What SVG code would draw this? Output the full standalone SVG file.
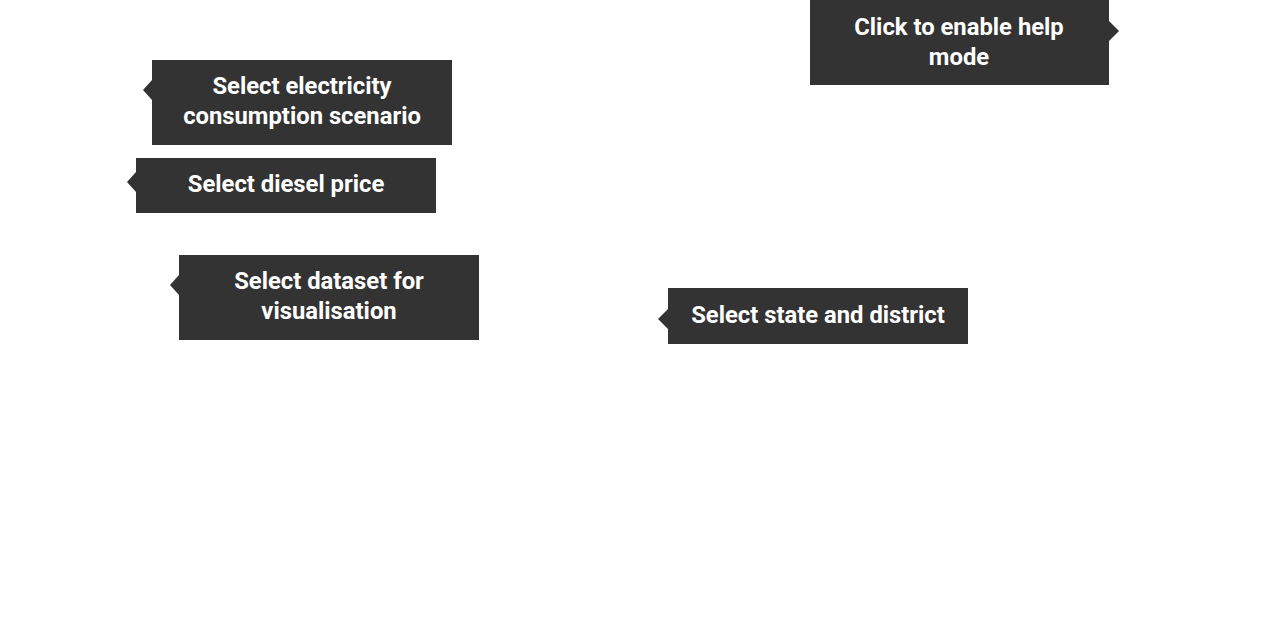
<svg xmlns="http://www.w3.org/2000/svg" width="1280" height="618" viewBox="0 0 1280 618">
<style>
.box{fill:#333333}
.t{font-family:Roboto,"Liberation Sans",sans-serif;font-weight:bold;font-size:23.8px;fill:#ffffff;text-anchor:middle}
</style>
<rect width="1280" height="618" fill="#ffffff"/>
<g id="connectors"></g>
<g id="help">
<rect class="box" x="810" y="0" width="299" height="85"/>
<polygon class="box" points="1109,21 1119,31 1109,41"/>
<text class="t" x="959" y="35">Click to enable help</text>
<text class="t" x="959" y="65">mode</text>
</g>
<g id="electricity">
<rect class="box" x="152" y="60" width="300" height="85"/>
<polygon class="box" points="152,80 143,90 152,100"/>
<text class="t" x="302" y="94">Select electricity</text>
<text class="t" x="302" y="124">consumption scenario</text>
</g>
<g id="diesel">
<rect class="box" x="136" y="158" width="300" height="55"/>
<polygon class="box" points="136,172 127,182 136,192"/>
<text class="t" x="286" y="192">Select diesel price</text>
</g>
<g id="dataset">
<rect class="box" x="179" y="255" width="300" height="85"/>
<polygon class="box" points="179,275 170,285 179,295"/>
<text class="t" x="329" y="289">Select dataset for</text>
<text class="t" x="329" y="319">visualisation</text>
</g>
<g id="state">
<rect class="box" x="668" y="288" width="300" height="56"/>
<polygon class="box" points="668,309 658,319 668,329"/>
<text class="t" x="818" y="323">Select state and district</text>
</g>
</svg>
